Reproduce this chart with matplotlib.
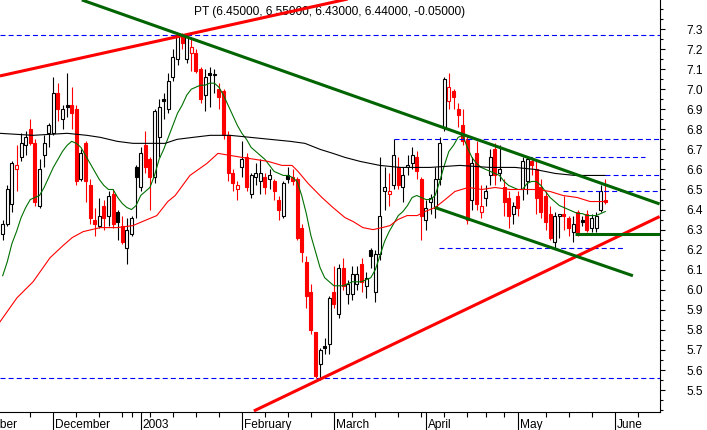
import matplotlib
matplotlib.use("Agg")
import matplotlib.pyplot as plt
from matplotlib.ticker import MultipleLocator, FixedLocator, FormatStrFormatter
import numpy as np

plt.rcParams['font.family'] = ['Liberation Sans', 'DejaVu Sans']

# ===== daily candles (Nov 2002 - May 2003) =====
opens = [6.28, 6.33, 6.43, 6.60, 6.66, 6.72, 6.80, 6.73, 6.42, 6.67,
         6.78, 6.78, 6.98, 6.85, 6.92, 6.92, 6.90, 6.55, 6.73, 6.52,
         6.35, 6.32, 6.42, 6.37, 6.48, 6.39, 6.32, 6.21, 6.28, 6.61,
         6.51, 6.72, 6.65, 6.56, 6.76, 6.95, 6.90, 7.06, 7.15, 7.27,
         7.15, 7.18, 7.18, 7.10, 6.97, 7.08, 7.07, 7.00, 6.99, 6.77,
         6.58, 6.50, 6.61, 6.66, 6.48, 6.56, 6.54, 6.56, 6.55, 6.54,
         6.45, 6.37, 6.57, 6.56, 6.55, 6.31, 6.14, 5.99, 5.79, 5.63,
         5.72, 5.73, 5.99, 5.88, 6.11, 5.98, 5.98, 6.03, 6.13, 6.02,
         6.20, 5.99, 6.18, 6.49, 6.48, 6.52, 6.61, 6.51, 6.61, 6.63,
         6.66, 6.55, 6.35, 6.44, 6.41, 6.55, 6.81, 6.94, 6.99, 6.90,
         6.82, 6.75, 6.45, 6.68, 6.39, 6.46, 6.57, 6.70, 6.58, 6.51,
         6.46, 6.38, 6.47, 6.50, 6.54, 6.64, 6.60, 6.51, 6.47, 6.38,
         6.24, 6.37, 6.38, 6.36, 6.29, 6.39, 6.35, 6.38, 6.31, 6.31,
         6.40, 6.45]
highs = [6.35, 6.52, 6.64, 6.72, 6.78, 6.79, 6.85, 6.75, 6.65, 6.77,
         6.83, 7.06, 7.03, 6.92, 7.08, 7.01, 6.92, 6.70, 6.74, 6.55,
         6.41, 6.46, 6.45, 6.49, 6.50, 6.40, 6.37, 6.36, 6.37, 6.62,
         6.71, 6.79, 6.66, 6.90, 6.95, 6.98, 7.08, 7.20, 7.28, 7.28,
         7.27, 7.25, 7.20, 7.11, 7.10, 7.11, 7.10, 7.03, 7.00, 6.79,
         6.60, 6.54, 6.74, 6.68, 6.58, 6.63, 6.65, 6.58, 6.60, 6.55,
         6.47, 6.54, 6.61, 6.60, 6.56, 6.33, 6.17, 6.03, 5.79, 5.71,
         5.76, 5.97, 6.12, 6.13, 6.16, 6.05, 6.12, 6.12, 6.16, 6.09,
         6.21, 6.20, 6.66, 6.61, 6.58, 6.75, 6.66, 6.61, 6.67, 6.71,
         6.69, 6.56, 6.45, 6.48, 6.61, 6.76, 7.06, 7.08, 7.00, 6.93,
         6.90, 6.77, 6.66, 6.74, 6.52, 6.52, 6.70, 6.73, 6.72, 6.55,
         6.49, 6.44, 6.49, 6.66, 6.66, 6.66, 6.64, 6.55, 6.49, 6.42,
         6.39, 6.38, 6.47, 6.37, 6.37, 6.40, 6.37, 6.40, 6.38, 6.39,
         6.52, 6.55]
lows = [6.25, 6.32, 6.39, 6.49, 6.64, 6.67, 6.72, 6.42, 6.41, 6.61,
        6.71, 6.77, 6.84, 6.80, 6.86, 6.80, 6.52, 6.54, 6.44, 6.33,
        6.27, 6.31, 6.30, 6.32, 6.31, 6.25, 6.23, 6.13, 6.27, 6.36,
        6.49, 6.58, 6.40, 6.53, 6.66, 6.85, 6.88, 7.04, 7.12, 7.20,
        7.13, 7.09, 7.08, 6.93, 6.89, 6.91, 6.98, 6.90, 6.75, 6.54,
        6.49, 6.45, 6.56, 6.49, 6.46, 6.52, 6.48, 6.48, 6.50, 6.45,
        6.35, 6.36, 6.53, 6.52, 6.25, 6.14, 5.91, 5.78, 5.56, 5.55,
        5.68, 5.68, 5.91, 5.86, 6.00, 5.93, 5.95, 6.00, 5.99, 5.96,
        6.11, 5.94, 6.15, 6.40, 6.42, 6.50, 6.50, 6.44, 6.57, 6.60,
        6.55, 6.25, 6.30, 6.38, 6.36, 6.52, 6.79, 6.90, 6.90, 6.81,
        6.72, 6.33, 6.40, 6.40, 6.36, 6.42, 6.52, 6.52, 6.54, 6.37,
        6.31, 6.33, 6.37, 6.45, 6.48, 6.57, 6.38, 6.36, 6.30, 6.25,
        6.21, 6.26, 6.30, 6.27, 6.24, 6.27, 6.32, 6.29, 6.29, 6.29,
        6.39, 6.43]
closes = [6.33, 6.50, 6.63, 6.62, 6.73, 6.76, 6.73, 6.44, 6.60, 6.73,
          6.82, 6.98, 6.90, 6.90, 6.91, 6.88, 6.54, 6.68, 6.54, 6.36,
          6.33, 6.37, 6.36, 6.47, 6.33, 6.34, 6.24, 6.30, 6.36, 6.56,
          6.68, 6.61, 6.56, 6.89, 6.91, 6.94, 7.04, 7.16, 7.27, 7.23,
          7.26, 7.21, 7.09, 6.95, 7.06, 7.07, 7.07, 6.96, 6.77, 6.58,
          6.53, 6.52, 6.65, 6.51, 6.57, 6.58, 6.58, 6.51, 6.57, 6.49,
          6.40, 6.53, 6.55, 6.54, 6.26, 6.19, 5.97, 5.80, 5.57, 5.70,
          5.71, 5.96, 5.93, 6.11, 6.02, 6.03, 6.08, 6.08, 6.04, 6.06,
          6.17, 6.18, 6.37, 6.51, 6.49, 6.67, 6.52, 6.57, 6.62, 6.67,
          6.59, 6.37, 6.41, 6.46, 6.55, 6.73, 7.05, 7.01, 6.96, 6.87,
          6.74, 6.35, 6.63, 6.43, 6.42, 6.49, 6.66, 6.57, 6.60, 6.44,
          6.37, 6.42, 6.41, 6.64, 6.65, 6.62, 6.46, 6.39, 6.34, 6.26,
          6.37, 6.38, 6.37, 6.31, 6.33, 6.29, 6.34, 6.30, 6.36, 6.37,
          6.49, 6.44]

# ===== moving averages =====
ma_short = [6.07, 6.14, 6.23, 6.29, 6.36, 6.41, 6.45, 6.46, 6.47, 6.51,
            6.56, 6.61, 6.65, 6.69, 6.72, 6.74, 6.73, 6.71, 6.67, 6.63,
            6.59, 6.55, 6.52, 6.50, 6.50, 6.46, 6.43, 6.41, 6.40, 6.42,
            6.47, 6.49, 6.51, 6.57, 6.65, 6.70, 6.76, 6.82, 6.88, 6.92,
            6.97, 7.00, 7.01, 7.02, 7.02, 7.03, 7.03, 7.01, 6.97, 6.92,
            6.87, 6.82, 6.78, 6.75, 6.71, 6.69, 6.67, 6.65, 6.62, 6.59,
            6.58, 6.57, 6.57, 6.56, 6.54, 6.47, 6.38, 6.27, 6.19, 6.11,
            6.06, 6.04, 6.02, 6.02, 6.02, 6.03, 6.04, 6.04, 6.04, 6.05,
            6.06, 6.10, 6.17, 6.24, 6.29, 6.33, 6.37, 6.39, 6.42, 6.46,
            6.47, 6.46, 6.45, 6.45, 6.47, 6.54, 6.62, 6.69, 6.72, 6.76,
            6.77, 6.71, 6.66, 6.63, 6.61, 6.60, 6.59, 6.58, 6.57, 6.54,
            6.52, 6.51, 6.50, 6.50, 6.53, 6.54, 6.54, 6.52, 6.49, 6.46,
            6.44, 6.42, 6.41, 6.40, 6.39, 6.38, 6.38, 6.37, 6.37, 6.37,
            6.38, 6.39]

ma_mid_day = [-0.6, 3.1, 6.6, 10.3, 13.1, 15.1, 17.5, 21.2, 24.9, 28.3,
              31.4, 33.5, 35.9, 37.5, 40.7, 44.4, 46.8, 49.4, 52.0, 54.9,
              57.7, 60.7, 62.9, 64.2, 66.4, 69.4, 71.8, 74.4, 76.2, 78.3,
              80.5, 82.5, 84.2, 85.9, 87.9, 90.1, 91.8, 94.0, 96.2, 98.3,
              101.2, 104.2, 107.0, 110.3, 113.1, 116.2, 119.0, 121.8, 124.9, 127.7,
              129.9, 131.0]
ma_mid = [5.84, 5.96, 6.04, 6.16, 6.22, 6.26, 6.29, 6.31, 6.31, 6.32,
          6.35, 6.37, 6.44, 6.47, 6.57, 6.63, 6.68, 6.67, 6.66, 6.65,
          6.64, 6.62, 6.62, 6.59, 6.53, 6.46, 6.41, 6.36, 6.34, 6.31,
          6.30, 6.31, 6.32, 6.35, 6.37, 6.37, 6.39, 6.41, 6.45, 6.49,
          6.51, 6.50, 6.51, 6.50, 6.50, 6.50, 6.49, 6.47, 6.46, 6.44,
          6.44, 6.44]

ma_long_day = [-0.6, 6.6, 14.0, 18.3, 21.2, 24.9, 28.3, 32.0, 35.3, 37.9,
               41.4, 45.1, 49.4, 53.8, 58.1, 62.5, 65.7, 69.0, 71.8, 74.4,
               77.7, 82.0, 86.4, 92.9, 99.4, 105.9, 111.4, 115.7, 120.1, 124.4,
               131.0]
ma_long = [6.78, 6.77, 6.78, 6.77, 6.76, 6.74, 6.73, 6.73, 6.73, 6.75,
           6.76, 6.77, 6.77, 6.76, 6.75, 6.74, 6.73, 6.70, 6.68, 6.66,
           6.64, 6.62, 6.61, 6.61, 6.62, 6.61, 6.61, 6.60, 6.58, 6.57,
           6.57]

# ===== trend lines (day index, price) =====
trend_red_up = ([-0.6, 80.0], [7.066, 7.475])
trend_red_low = ([54.6, 142.8], [5.396, 6.365])
trend_green_long = ([17.2, 142.8], [7.445, 6.428])
trend_green_low = ([94.0, 137.0], [6.41, 6.07])
trend_green_flat = ([124.5, 142.8], [6.28, 6.28])

# ===== horizontal levels =====
level_price = [7.27, 6.75, 6.66, 6.57, 6.49, 6.21, 5.56]
level_from = [-0.6, 85.0, 114.0, 131.0, 121.8, 94.8, -0.6]
level_to = [142.8, 142.8, 139.6, 142.8, 142.8, 134.8, 142.8]

# ===== axes =====
price_ticks = [5.5, 5.6, 5.7, 5.8, 5.9, 6.0, 6.1, 6.2, 6.3, 6.4,
               6.5, 6.6, 6.7, 6.8, 6.9, 7.0, 7.1, 7.2, 7.3]
month_day = [-9.4, 11, 30, 52, 72, 92, 112, 133]
month_names = ["November", "December", "2003", "February", "March", "April", "May", "June"]
week_day = [6, 16, 21, 26, 28, 32, 37, 42, 47, 57, 62, 67, 76, 81, 86, 91,
            96, 101, 105, 109, 118, 123, 128, 138]

title = "PT (6.45000, 6.55000, 6.43000, 6.44000, -0.05000)"


fig = plt.figure(figsize=(7.07, 4.30), dpi=100)
ax = fig.add_axes([0, 18.3 / 430, 659.5 / 707, 411.7 / 430])

o = np.array(opens)
h = np.array(highs)
l = np.array(lows)
c = np.array(closes)
x = np.arange(len(c))
prev = np.r_[c[0], c[:-1]]
down = c < prev
hollow = c >= o
edge = np.where(down, 'red', 'black')
face = np.where(hollow, 'white', edge)

# candles
ax.vlines(x, l, h, colors=edge, linewidth=0.8, zorder=2)
body = np.maximum(np.abs(c - o), 0.004)
ax.bar(x, body, 0.62, np.minimum(o, c), color=face, edgecolor=edge,
       linewidth=0.8, zorder=3)

# moving averages
ax.plot(x, ma_short, color='#007000', linewidth=0.8, zorder=4)
ax.plot(ma_mid_day, ma_mid, color='red', linewidth=0.8, zorder=4)
ax.plot(ma_long_day, ma_long, color='black', linewidth=0.8, zorder=4)

# levels
for p, a, b in zip(level_price, level_from, level_to):
    ax.plot([a, b], [p, p], color='#0000ff', linewidth=0.8,
            dashes=(4.5, 2.8), zorder=4)

# trend lines
for (tx, ty), col in [(trend_red_up, 'red'), (trend_red_low, 'red'),
                      (trend_green_long, '#006400'), (trend_green_low, '#006400'),
                      (trend_green_flat, '#006400')]:
    ax.plot(tx, ty, color=col, linewidth=2.2, zorder=5,
            solid_capstyle='butt')

ax.set_xlim(-0.587, 142.78)
ax.set_ylim(5.3923, 7.4446)

# y axis on right
ax.yaxis.tick_right()
ax.yaxis.set_major_locator(FixedLocator(price_ticks))
ax.yaxis.set_minor_locator(MultipleLocator(0.05))
ax.yaxis.set_major_formatter(FormatStrFormatter('%.1f'))
ax.tick_params(axis='y', which='major', length=3.6, width=0.8, pad=16,
               labelsize=8.6, colors='black')
ax.tick_params(axis='y', which='minor', length=2.2, width=0.8)

# x axis
ax.xaxis.set_major_locator(FixedLocator(month_day))
ax.xaxis.set_minor_locator(FixedLocator(week_day))
ax.set_xticklabels([])
ax.tick_params(axis='x', which='major', length=13.5, width=0.8)
ax.tick_params(axis='x', which='minor', length=3.6, width=0.8)
for d, name in zip(month_day, month_names):
    ax.text(d + 0.45, -0.0396, name, transform=ax.get_xaxis_transform(),
            ha='left', va='baseline', fontsize=8.6, clip_on=False)

for side in ['left', 'top']:
    ax.spines[side].set_visible(False)
for side in ['right', 'bottom']:
    ax.spines[side].set_linewidth(0.8)

ax.text(0.499, 1 - 15 / 411.7, title, transform=ax.transAxes,
        ha='center', va='baseline', fontsize=8.6)

fig.savefig('out.png', dpi=100)
